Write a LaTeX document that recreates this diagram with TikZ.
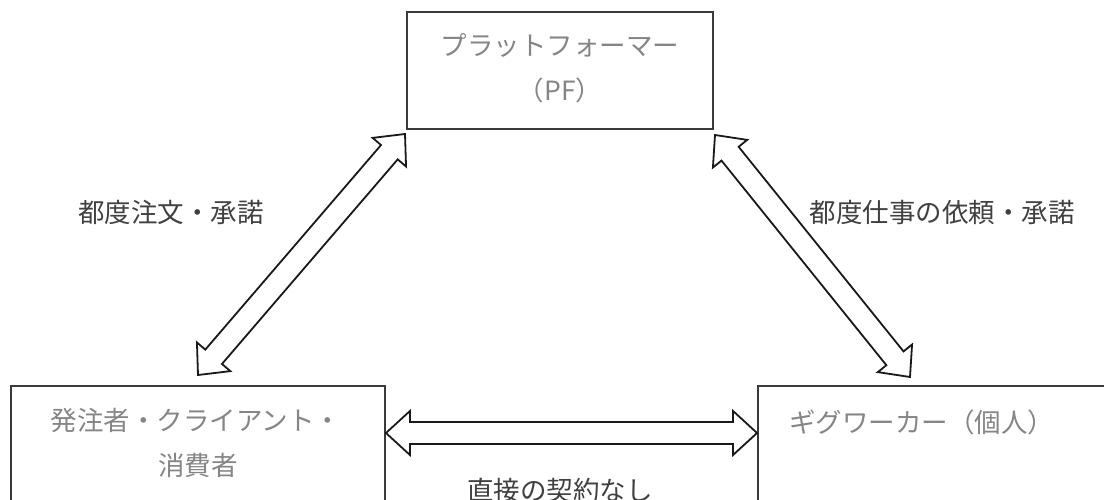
\documentclass[tikz,border=0pt]{standalone}
\usepackage{fontspec}
\newfontfamily\jp{Noto Sans CJK JP}
\usetikzlibrary{calc}
\definecolor{boxline}{HTML}{3A3A3A}
\definecolor{boxtext}{HTML}{858585}
\definecolor{labtext}{HTML}{404040}
\tikzset{
  boxframe/.style={draw=boxline, line width=1.9pt},
  boxlabel/.style={text=boxtext, font=\jp\fontsize{26.5}{32}\selectfont, inner sep=0pt, anchor=center},
  edgelabel/.style={text=labtext, font=\jp\fontsize{26.5}{32}\selectfont, inner sep=0pt, anchor=center},
  hollowarrow/.style={draw=black!90, line width=1.8pt, fill=white, line join=miter},
}
% hollow double arrow between two named coordinates
\newcommand\hollowdbl[2]{%
  \coordinate (hdP) at ($(#1)!24pt!(#2)$);
  \coordinate (hdQ) at ($(#2)!24pt!(#1)$);
  \draw[hollowarrow] (#1)
    -- ($(hdP)!22pt!90:(#2)$) -- ($(hdP)!11pt!90:(#2)$)
    -- ($(hdQ)!11pt!-90:(#1)$) -- ($(hdQ)!22pt!-90:(#1)$)
    -- (#2)
    -- ($(hdQ)!22pt!90:(#1)$) -- ($(hdQ)!11pt!90:(#1)$)
    -- ($(hdP)!11pt!-90:(#2)$) -- ($(hdP)!22pt!-90:(#2)$)
    -- cycle;
}
\begin{document}
\begin{tikzpicture}[x=1pt,y=-1pt]
\useasboundingbox (0,0) rectangle (1104,500);
\clip (0,0) rectangle (1104,500);
% boxes
\node[boxframe, minimum width=306pt, minimum height=117pt, inner sep=0pt] (pf) at (560,70.5) {};
\node[boxframe, minimum width=374pt, minimum height=130pt, inner sep=0pt] (cl) at (198,450.7) {};
\node[boxframe, minimum width=360pt, minimum height=130pt, inner sep=0pt] (gw) at (938,450.7) {};
% box texts
\node[boxlabel] (pft1) at (560,45) {プラットフォーマー};
\node[boxlabel] (pft2) at (560,90) {（PF）};
\node[boxlabel] (clt1) at (196,420) {発注者・クライアント・};
\node[boxlabel] (clt2) at (198,465) {消費者};
\node[boxlabel, anchor=west] (gwt) at (789,422) {ギグワーカー（個人）};
% arrow end points
\coordinate (l1) at (405,134);
\coordinate (l2) at (198,375);
\coordinate (r1) at (715,135);
\coordinate (r2) at (910,377);
\coordinate (h1) at (cl.east |- 0,433);
\coordinate (h2) at (gw.west |- 0,433);
\hollowdbl{l1}{l2}
\hollowdbl{r1}{r2}
\hollowdbl{h1}{h2}
% edge labels
\node[edgelabel] (lab1) at (171,212) {都度注文・承諾};
\node[edgelabel] (lab2) at (942,212) {都度仕事の依頼・承諾};
\node[edgelabel] (lab3) at (560,490) {直接の契約なし};
\end{tikzpicture}
\end{document}
